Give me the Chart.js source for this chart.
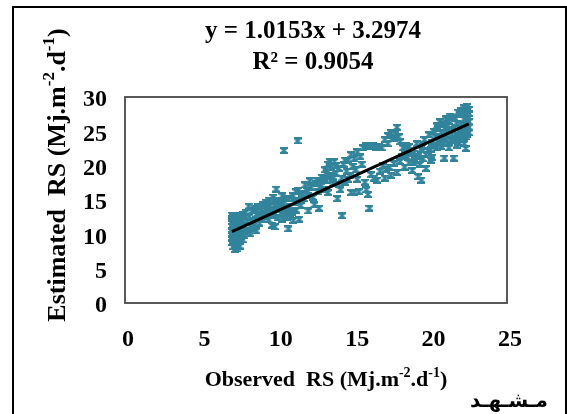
<!DOCTYPE html>
<html>
<head>
<meta charset="utf-8">
<script src="https://cdn.jsdelivr.net/npm/chart.js@4.4.0/dist/chart.umd.min.js"></script>
<style>
  html, body { margin: 0; padding: 0; background: #fff; }
</style>
</head>
<body>
<canvas id="rsChart" width="567" height="414"></canvas>
<script>
// Observed vs estimated RS (one line per x band)
const observed = [
  7.0,7.0,7.0,7.0,7.0,7.0,7.0,7.1,7.1,7.1,7.1,7.1,7.2,7.2,7.2,7.2,7.2,7.3,7.3,7.3,7.3,7.3,7.4,7.4,7.4,7.4,7.5,7.5,7.5,7.5,7.6,7.6,7.6,7.7,7.7,7.8,7.8,7.8,
  7.9,8.0,8.0,8.1,8.1,8.2,8.2,8.3,8.4,8.4,8.5,8.5,8.6,8.6,8.7,8.8,8.8,
  8.9,9.0,9.0,9.1,9.2,9.2,9.3,9.4,9.4,9.5,9.6,9.6,9.7,9.7,9.8,9.8,9.9,9.9,10.0,10.0,
  10.1,10.2,10.3,10.3,10.4,10.4,10.5,10.6,10.7,10.7,10.8,10.9,11.0,11.0,11.1,11.2,11.3,11.3,11.4,11.4,
  11.6,11.7,11.8,11.9,12.0,12.0,12.1,12.2,12.3,12.4,12.5,12.6,12.7,12.8,12.9,13.0,
  13.1,13.2,13.3,13.3,13.4,13.5,13.6,13.7,13.8,13.9,14.0,14.1,14.2,14.2,14.3,14.4,14.5,14.6,14.7,14.8,14.9,
  15.0,15.0,15.1,15.2,15.2,15.3,15.4,15.5,15.6,15.7,15.8,15.8,15.9,16.0,16.0,16.1,16.2,16.3,16.4,16.5,
  16.6,16.7,16.8,16.9,17.0,17.0,17.1,17.2,17.3,17.4,17.4,17.5,17.6,17.7,17.8,17.8,17.9,18.0,18.0,18.1,
  18.2,18.3,18.4,18.5,18.6,18.7,18.8,18.9,19.0,19.1,19.2,19.3,19.4,19.4,19.5,19.6,19.7,19.8,19.9,20.0,20.1,20.2,
  20.3,20.4,20.5,20.6,20.7,20.8,20.9,20.9,21.0,21.1,21.2,21.3,21.4,21.5,21.5,21.6,21.7,21.8,21.8,21.9,22.0,22.0,22.1,22.1,22.2,22.2,22.3,22.3,22.3,22.4,22.4,22.4,22.5,22.5,22.5,
  20.2,20.4,20.5,20.6,20.7,20.8,21.0,21.0,21.1,21.2,21.3,21.4,21.6,21.6,21.7,21.8,21.9,22.0,22.1,22.2,22.2,22.3,22.4,22.4,22.5,22.5,
  7.0,7.1,7.2,7.3,7.4,7.5,7.6,7.7,7.7,7.8,
  13.2,13.4,13.6,13.8,14.0,14.4,14.6,14.8,13.0,12.6,
  9.2,9.5,9.8,10.2,10.5,10.8,11.2,11.5,8.3,8.6,
  18.3,18.6,18.9,19.2,19.5,19.7,20.0,20.1,17.6,17.2
];
const estimated = [
  12.3,11.8,11.2,10.6,10.0,9.4,8.8,12.6,11.5,10.3,9.1,8.2,12.0,11.0,9.8,8.6,7.8,12.4,11.4,10.5,9.3,8.4,11.9,10.8,9.6,8.9,12.8,11.6,10.2,9.0,12.2,10.9,9.7,11.3,10.0,12.6,11.0,10.4,
  13.2,11.8,10.6,14.1,12.5,11.2,10.1,13.4,12.0,10.8,13.8,11.5,12.9,10.5,14.0,12.4,11.6,
  13.5,14.3,12.2,13.0,14.7,12.6,13.8,15.0,12.1,14.2,11.3,13.2,15.4,12.7,14.1,11.1,16.6,13.6,15.0,12.4,
  14.0,13.0,15.6,12.2,22.2,14.5,13.4,12.5,10.8,15.2,14.0,13.2,15.6,12.0,14.6,13.5,23.6,16.4,12.2,15.0,
  16.0,15.2,17.2,16.4,13.4,15.6,17.8,16.8,15.4,14.3,17.4,16.2,13.8,17.0,18.3,16.6,
  19.4,17.8,16.1,20.2,18.6,19.8,17.4,20.6,18.9,15.2,19.6,16.5,12.7,18.2,20.2,17.6,19.2,20.8,18.5,16.1,19.9,
  21.0,16.1,19.4,22.0,18.0,16.2,21.3,20.2,22.6,17.6,16.5,22.9,15.8,13.8,22.8,18.7,22.9,18.2,22.7,17.9,
  22.8,19.2,22.6,20.0,23.8,18.2,19.5,24.4,19.8,24.8,18.6,23.9,20.3,24.6,25.6,19.0,24.2,20.6,23.5,21.4,
  22.6,19.8,23.0,21.2,20.4,22.2,19.3,21.8,20.7,23.2,18.4,20.2,22.4,17.9,21.0,23.8,19.6,22.2,24.5,20.8,23.4,25.0,
  24.2,22.6,25.4,23.8,24.8,26.0,21.1,23.2,25.6,24.4,26.5,23.6,25.2,21.1,27.0,24.0,26.2,25.0,23.4,27.4,26.0,24.6,27.8,23.8,26.8,25.4,22.5,28.2,24.2,27.2,25.8,28.6,26.4,24.8,27.6,
  23.0,25.8,23.4,26.4,22.8,24.2,26.8,23.8,25.2,22.6,27.2,24.6,26.8,25.6,23.0,27.8,24.4,28.0,25.0,28.4,23.2,26.2,24.6,26.8,25.6,28.2,
  12.8,9.7,10.5,7.9,12.5,8.3,11.4,12.9,9.2,9.8,
  19.0,20.6,18.4,20.0,17.2,20.8,18.0,21.6,18.0,17.8,
  13.6,13.0,15.0,14.6,15.2,13.0,16.2,14.2,11.8,13.6,
  21.6,22.8,20.4,21.4,22.8,21.6,22.4,21.2,24.0,23.2
];

// linear trend line end points (y = 1.0153x + 3.2974)
const trendX = [7.0, 22.5];
const trendY = [10.4, 26.1];

const xTicks = [0, 5, 10, 15, 20, 25];
const yTicks = [0, 5, 10, 15, 20, 25, 30];

const equationText = 'y = 1.0153x + 3.2974';
const r2Text = 'R² = 0.9054';
const stationName = 'مـشـهـد';

const SERIF = '"Liberation Serif", "Times New Roman", serif';
const TEAL = '#31849b';

// excel style "x" marker with bars on top and bottom
const makeMarker = (color) => {
  const c = document.createElement('canvas');
  c.width = 8; c.height = 7;
  const g = c.getContext('2d');
  g.strokeStyle = color;
  g.lineWidth = 2;
  g.beginPath();
  g.moveTo(0.5, 0.5); g.lineTo(7.5, 6.5);
  g.moveTo(7.5, 0.5); g.lineTo(0.5, 6.5);
  g.moveTo(0, 0.9); g.lineTo(8, 0.9);
  g.moveTo(0, 6.1); g.lineTo(8, 6.1);
  g.stroke();
  return c;
};

// draw a label with superscript parts, e.g. Mj.m-2
const drawSupText = (ctx, parts, x, y, size) => {
  const supSize = Math.round(size * 0.65);
  let total = 0;
  parts.forEach(p => {
    ctx.font = 'bold ' + (p.sup ? supSize : size) + 'px ' + SERIF;
    total += ctx.measureText(p.t).width;
  });
  let cx = x - total / 2;
  ctx.textAlign = 'left';
  ctx.textBaseline = 'alphabetic';
  parts.forEach(p => {
    ctx.font = 'bold ' + (p.sup ? supSize : size) + 'px ' + SERIF;
    ctx.fillText(p.t, cx, p.sup ? y - size * 0.42 : y);
    cx += ctx.measureText(p.t).width;
  });
};

const unitParts = [
  { t: ' (Mj.m' }, { t: '-2', sup: true }, { t: '.d' }, { t: '-1', sup: true }, { t: ')' }
];

const decorPlugin = {
  id: 'decor',
  beforeDraw(chart) {
    const ctx = chart.ctx;
    ctx.save();
    ctx.fillStyle = '#fff';
    ctx.fillRect(0, 0, chart.width, chart.height);
    ctx.restore();
  },
  afterDatasetsDraw(chart) {
    const ctx = chart.ctx;
    const a = chart.chartArea;
    ctx.save();
    // plot box
    ctx.strokeStyle = '#595959';
    ctx.lineWidth = 2;
    ctx.strokeRect(a.left, a.top, a.right - a.left, a.bottom - a.top);

    // outer frame (open at the bottom)
    ctx.strokeStyle = '#000';
    ctx.lineWidth = 2;
    ctx.beginPath();
    ctx.moveTo(13, 414);
    ctx.lineTo(13, 7);
    ctx.lineTo(566, 7);
    ctx.lineTo(566, 414);
    ctx.stroke();

    ctx.fillStyle = '#000';
    ctx.textAlign = 'center';
    ctx.textBaseline = 'middle';
    ctx.font = 'bold 25px ' + SERIF;
    ctx.fillText(equationText, 313, 32);
    ctx.fillText(r2Text, 313, 63);

    // axis titles
    drawSupText(ctx, [{ t: 'Observed  RS' }].concat(unitParts), 326, 386, 22);
    ctx.save();
    ctx.translate(65, 175);
    ctx.rotate(-Math.PI / 2);
    drawSupText(ctx, [{ t: 'Estimated  RS' }].concat(unitParts), 0, 0, 26);
    ctx.restore();

    // station name
    ctx.textAlign = 'right';
    ctx.textBaseline = 'middle';
    ctx.font = 'bold 20px "DejaVu Sans", sans-serif';
    ctx.fillText(stationName, 548, 402);
    ctx.restore();
  }
};

const ctx = document.getElementById('rsChart').getContext('2d');
const rsChart = new Chart(ctx, {
  type: 'scatter',
  data: {
    datasets: [
      {
        label: 'Linear',
        type: 'line',
        order: 0,
        data: trendX.map((x, i) => ({ x: x, y: trendY[i] })),
        borderColor: '#000',
        borderWidth: 3,
        pointRadius: 0,
        fill: false
      },
      {
        label: 'RS',
        order: 1,
        data: observed.map((x, i) => ({ x: x, y: estimated[i] })),
        pointStyle: makeMarker(TEAL),
        pointRadius: 4,
        pointHoverRadius: 4
      }
    ]
  },
  options: {
    responsive: false,
    animation: false,
    devicePixelRatio: 1,
    layout: { padding: { left: 0, top: 97, right: 60, bottom: 0 } },
    plugins: {
      legend: { display: false },
      tooltip: { enabled: false }
    },
    scales: {
      x: {
        type: 'linear',
        min: 0,
        max: 25,
        afterFit: (s) => { s.height = 111; },
        afterBuildTicks: (s) => { s.ticks = xTicks.map(v => ({ value: v })); },
        grid: { display: false, drawTicks: false },
        border: { display: false },
        ticks: {
          padding: 22,
          labelOffset: 3,
          color: '#000',
          font: { family: SERIF, size: 24, weight: 'bold' }
        }
      },
      y: {
        type: 'linear',
        min: 0,
        max: 30,
        afterFit: (s) => { s.width = 125; },
        afterBuildTicks: (s) => { s.ticks = yTicks.map(v => ({ value: v })); },
        grid: { display: false, drawTicks: false },
        border: { display: false },
        ticks: {
          padding: 18,
          labelOffset: 3,
          color: '#000',
          font: { family: SERIF, size: 24, weight: 'bold' }
        }
      }
    }
  },
  plugins: [decorPlugin]
});
</script>
</body>
</html>
